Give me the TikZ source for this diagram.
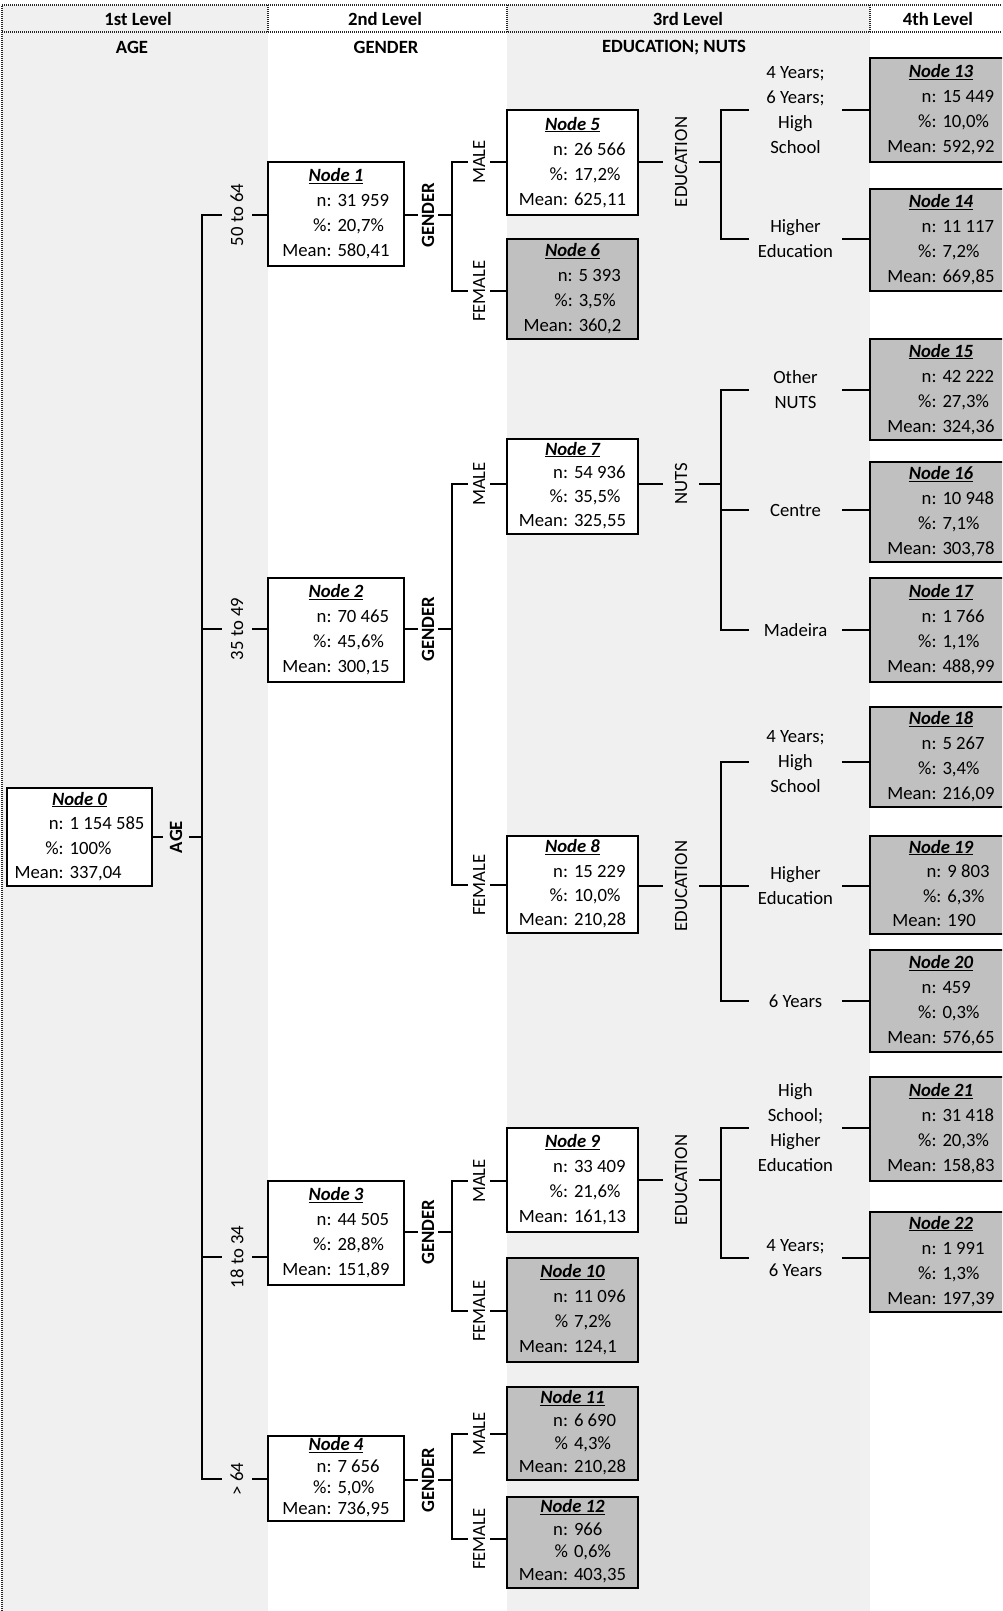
\documentclass[tikz,border=0pt]{standalone}
\usepackage{fontspec}
\setmainfont{Carlito}
\usepackage{xcolor}
\usetikzlibrary{positioning}
\definecolor{cellgray}{HTML}{F0F0F0}
\definecolor{leafgray}{HTML}{C0C0C0}
\newcommand{\nodestats}[6][1]{\def\arraystretch{#1}%
\begin{tabular}{@{}r@{\hspace{6pt}}l@{}}
\multicolumn{2}{c}{\textbf{\textit{\underline{#2}}}}\\
n: & #3\\
#4 & #5\\
Mean: & #6
\end{tabular}}
\tikzset{%
boxnode/.style={rectangle, draw=black, line width=2pt, fill=white, inner sep=0pt, minimum width=136pt, minimum height=100pt, font=\fontsize{18.7}{25}\selectfont},
leafnode/.style={boxnode, fill=leafgray},
ln/.style={draw=black, line width=2pt},
hdr/.style={draw=black!85, line width=1.6pt, dash pattern=on 1pt off 1pt}
}

\begin{document}
\begin{tikzpicture}[x=1pt,y=-1pt,
		txt/.style={font=\fontsize{18.7}{25}\selectfont},
		hd/.style={font=\fontsize{18.7}{25}\selectfont\bfseries},
		splitlbl/.style={txt, rotate=90, inner sep=0pt, minimum height=#1},
		bsplit/.style={splitlbl=#1, hd},
		catlbl/.style={txt, align=center, inner sep=0pt, minimum width=93pt},
		thirdbox/.style={minimum width=131pt},
		fourthbox/.style={minimum width=142pt}]
		\useasboundingbox (0,0) rectangle (1002,1611);
		\clip (0,0) rectangle (1002,1611);
		\fill[cellgray] (2,5) rectangle (268,1611);
		\fill[cellgray] (507,5) rectangle (870,1611);
		\draw[hdr] (2,1611) -- (2,5) -- (1002,5);
		\draw[hdr] (2,32) -- (1002,32);
		\draw[hdr] (268,5) -- (268,32) (507,5) -- (507,32) (870,5) -- (870,32);

		\node[hd] (lev1) at (138,19) {1st Level};
		\node[hd] (lev2) at (385,19) {2nd Level};
		\node[hd] (lev3) at (688,19) {3rd Level};
		\node[hd] (lev4) at (938,19) {4th Level};
		\node[hd] (var1) at (132,47.5) {AGE};
		\node[hd] (var2) at (386,47.5) {GENDER};
		\node[hd] (var3) at (674,47.5) {EDUCATION; NUTS};

		\node[boxnode, minimum width=145pt, minimum height=98pt] (n0) at (79.5,837) {\nodestats[0.98]{Node 0}{1 154 585}{\%:}{100\%}{337,04}};
		\node[boxnode, minimum height=104pt] (n1) at (336,214) {\nodestats{Node 1}{31 959}{\%:}{20,7\%}{580,41}};
		\node[boxnode, minimum height=104pt] (n2) at (336,630) {\nodestats{Node 2}{70 465}{\%:}{45,6\%}{300,15}};
		\node[boxnode, minimum height=104pt] (n3) at (336,1233) {\nodestats{Node 3}{44 505}{\%:}{28,8\%}{151,89}};
		\node[boxnode, minimum height=85pt] (n4) at (336,1478.5) {\nodestats[0.85]{Node 4}{7 656}{\%:}{5,0\%}{736,95}};
		\node[boxnode, thirdbox, minimum height=105pt] (n5) at (572.5,162.5) {\nodestats{Node 5}{26 566}{\%:}{17,2\%}{625,11}};
		\node[leafnode, thirdbox] (n6) at (572.5,289) {\nodestats{Node 6}{5 393}{\%:}{3,5\%}{360,2}};
		\node[boxnode, thirdbox, minimum height=95pt] (n7) at (572.5,486) {\nodestats[0.95]{Node 7}{54 936}{\%:}{35,5\%}{325,55}};
		\node[boxnode, thirdbox, minimum height=97pt] (n8) at (572.5,884.5) {\nodestats[0.97]{Node 8}{15 229}{\%:}{10,0\%}{210,28}};
		\node[boxnode, thirdbox, minimum height=104pt] (n9) at (572.5,1180) {\nodestats{Node 9}{33 409}{\%:}{21,6\%}{161,13}};
		\node[leafnode, thirdbox, minimum height=104pt] (n10) at (572.5,1310) {\nodestats{Node 10}{11 096}{\%}{7,2\%}{124,1}};
		\node[leafnode, thirdbox, minimum height=93pt] (n11) at (572.5,1433.5) {\nodestats[0.92]{Node 11}{6 690}{\%}{4,3\%}{210,28}};
		\node[leafnode, thirdbox, minimum height=91pt] (n12) at (572.5,1542) {\nodestats[0.9]{Node 12}{966}{\%}{0,6\%}{403,35}};
		\node[leafnode, fourthbox, minimum height=104pt] (n13) at (941,110) {\nodestats{Node 13}{15 449}{\%:}{10,0\%}{592,92}};
		\node[leafnode, fourthbox, minimum height=102pt] (n14) at (941,240) {\nodestats{Node 14}{11 117}{\%:}{7,2\%}{669,85}};
		\node[leafnode, fourthbox, minimum height=101pt] (n15) at (941,389.5) {\nodestats{Node 15}{42 222}{\%:}{27,3\%}{324,36}};
		\node[leafnode, fourthbox] (n16) at (941,512) {\nodestats{Node 16}{10 948}{\%:}{7,1\%}{303,78}};
		\node[leafnode, fourthbox, minimum height=104pt] (n17) at (941,630) {\nodestats{Node 17}{1 766}{\%:}{1,1\%}{488,99}};
		\node[leafnode, fourthbox] (n18) at (941,757) {\nodestats{Node 18}{5 267}{\%:}{3,4\%}{216,09}};
		\node[leafnode, fourthbox, minimum height=98pt] (n19) at (941,885) {\nodestats[0.98]{Node 19}{9 803}{\%:}{6,3\%}{190}};
		\node[leafnode, fourthbox, minimum height=102pt] (n20) at (941,1001) {\nodestats{Node 20}{459}{\%:}{0,3\%}{576,65}};
		\node[leafnode, fourthbox, minimum height=104pt] (n21) at (941,1129) {\nodestats{Node 21}{31 418}{\%:}{20,3\%}{158,83}};
		\node[leafnode, fourthbox, minimum height=99pt] (n22) at (941,1261.5) {\nodestats{Node 22}{1 991}{\%:}{1,3\%}{197,39}};

		\node[bsplit=26pt] (sAge) at (176,837) {AGE};
		\node[splitlbl=30pt] (l5064) at (237,215) {50 to 64};
		\node[splitlbl=30pt] (l3549) at (237,629) {35 to 49};
		\node[splitlbl=30pt] (l1834) at (237,1257) {18 to 34};
		\node[splitlbl=30pt] (lOld) at (237,1479) {> 64};
		\node[bsplit=20pt] (sGen1) at (428,215) {GENDER};
		\node[bsplit=20pt] (sGen2) at (428,629) {GENDER};
		\node[bsplit=20pt] (sGen3) at (428,1232) {GENDER};
		\node[bsplit=20pt] (sGen4) at (428,1480) {GENDER};
		\node[splitlbl=22pt] (lMale5) at (479,162) {MALE};
		\node[splitlbl=22pt] (lFem6) at (479,291) {FEMALE};
		\node[splitlbl=22pt] (lMale7) at (479,484) {MALE};
		\node[splitlbl=22pt] (lFem8) at (479,885) {FEMALE};
		\node[splitlbl=22pt] (lMale9) at (479,1181) {MALE};
		\node[splitlbl=22pt] (lFem10) at (479,1311) {FEMALE};
		\node[splitlbl=22pt] (lMale11) at (479,1434) {MALE};
		\node[splitlbl=22pt] (lFem12) at (479,1539) {FEMALE};
		\node[splitlbl=36pt] (sEdu5) at (681,162) {EDUCATION};
		\node[splitlbl=36pt] (sNuts7) at (681,484) {NUTS};
		\node[splitlbl=36pt] (sEdu8) at (681,886) {EDUCATION};
		\node[splitlbl=36pt] (sEdu9) at (681,1180) {EDUCATION};
		\node[catlbl] (c13) at (795.5,110) {4 Years;\\6 Years;\\High\\School};
		\node[catlbl] (c14) at (795.5,239) {Higher\\Education};
		\node[catlbl] (c15) at (795.5,390) {Other\\NUTS};
		\node[catlbl] (c16) at (795.5,510) {Centre};
		\node[catlbl] (c17) at (795.5,630) {Madeira};
		\node[catlbl] (c18) at (795.5,762) {4 Years;\\High\\School};
		\node[catlbl] (c19) at (795.5,886) {Higher\\Education};
		\node[catlbl] (c20) at (795.5,1001) {6 Years};
		\node[catlbl] (c21) at (795.5,1128) {High\\School;\\Higher\\Education};
		\node[catlbl] (c22) at (795.5,1258) {4 Years;\\6 Years};

		\coordinate (bAge) at (202,837);
		\coordinate (bGen1) at (452,215);
		\coordinate (bGen2) at (452,629);
		\coordinate (bGen3) at (452,1232);
		\coordinate (bGen4) at (452,1480);
		\coordinate (bEdu5) at (721,162);
		\coordinate (bNuts7) at (721,484);
		\coordinate (bEdu8) at (721,886);
		\coordinate (bEdu9) at (721,1180);

		\draw[ln] (sAge -| n0.east) -- (sAge) (sAge) -- (bAge);
		\draw[ln] (l5064) -| (bAge) |- (lOld);
		\draw[ln] (l3549) -- (l3549 -| bAge) (l1834) -- (l1834 -| bAge);
		\draw[ln] (l5064) -- (l5064 -| n1.west) (l3549) -- (l3549 -| n2.west);
		\draw[ln] (l1834) -- (l1834 -| n3.west) (lOld) -- (lOld -| n4.west);

		\draw[ln] (sGen1 -| n1.east) -- (sGen1) (sGen1) -- (bGen1);
		\draw[ln] (lMale5) -| (bGen1) |- (lFem6);
		\draw[ln] (lMale5) -- (lMale5 -| n5.west) (lFem6) -- (lFem6 -| n6.west);
		\draw[ln] (sGen2 -| n2.east) -- (sGen2) (sGen2) -- (bGen2);
		\draw[ln] (lMale7) -| (bGen2) |- (lFem8);
		\draw[ln] (lMale7) -- (lMale7 -| n7.west) (lFem8) -- (lFem8 -| n8.west);
		\draw[ln] (sGen3 -| n3.east) -- (sGen3) (sGen3) -- (bGen3);
		\draw[ln] (lMale9) -| (bGen3) |- (lFem10);
		\draw[ln] (lMale9) -- (lMale9 -| n9.west) (lFem10) -- (lFem10 -| n10.west);
		\draw[ln] (sGen4 -| n4.east) -- (sGen4) (sGen4) -- (bGen4);
		\draw[ln] (lMale11) -| (bGen4) |- (lFem12);
		\draw[ln] (lMale11) -- (lMale11 -| n11.west) (lFem12) -- (lFem12 -| n12.west);

		\draw[ln] (sEdu5 -| n5.east) -- (sEdu5) (sEdu5) -- (bEdu5);
		\draw[ln] (c13) -| (bEdu5) |- (c14);
		\draw[ln] (sNuts7 -| n7.east) -- (sNuts7) (sNuts7) -- (bNuts7);
		\draw[ln] (c15) -| (bNuts7) |- (c17);
		\draw[ln] (c16) -- (c16 -| bNuts7);
		\draw[ln] (sEdu8 -| n8.east) -- (sEdu8) (sEdu8) -- (bEdu8);
		\draw[ln] (c18) -| (bEdu8) |- (c20);
		\draw[ln] (c19) -- (c19 -| bEdu8);
		\draw[ln] (sEdu9 -| n9.east) -- (sEdu9) (sEdu9) -- (bEdu9);
		\draw[ln] (c21) -| (bEdu9) |- (c22);

		\draw[ln] (c13) -- (c13 -| n13.west) (c14) -- (c14 -| n14.west);
		\draw[ln] (c15) -- (c15 -| n15.west) (c16) -- (c16 -| n16.west);
		\draw[ln] (c17) -- (c17 -| n17.west) (c18) -- (c18 -| n18.west);
		\draw[ln] (c19) -- (c19 -| n19.west) (c20) -- (c20 -| n20.west);
		\draw[ln] (c21) -- (c21 -| n21.west) (c22) -- (c22 -| n22.west);
	\end{tikzpicture}
\end{document}
